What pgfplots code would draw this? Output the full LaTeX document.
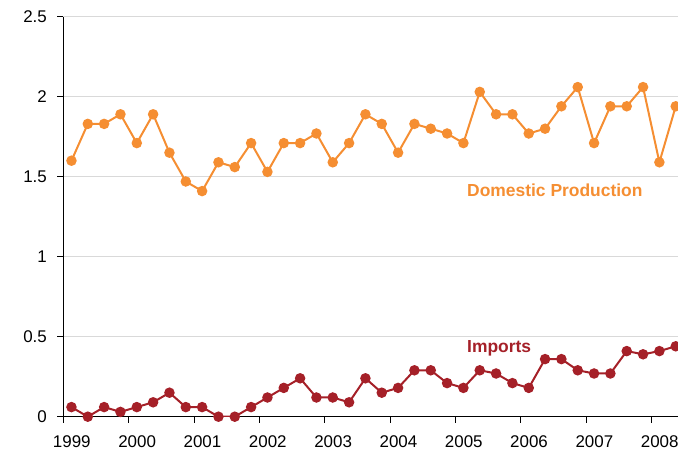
\documentclass[border=0pt]{standalone}
\usepackage{pgfplots}
\pgfplotsset{compat=1.18}
\usepackage{fontspec}
\setmainfont{Liberation Sans}
\definecolor{dom}{RGB}{245,142,50}
\definecolor{imp}{RGB}{165,32,40}
\definecolor{gridc}{RGB}{217,217,217}
\begin{document}
\begin{tikzpicture}[x=1bp,y=1bp]
\useasboundingbox (0,0) rectangle (678,453);
\begin{axis}[
  at={(63.3bp,36.3bp)}, anchor=south west,
  scale only axis, width=614.7bp, height=400bp,
  xmin=1999, xmax=2008.41, ymin=0, ymax=2.5,
  axis x line=bottom, axis y line=left,
  axis line style={-, black, line width=0.9bp},
  xtick={1999,2000,2001,2002,2003,2004,2005,2006,2007,2008},
  xticklabels={1999,2000,2001,2002,2003,2004,2005,2006,2007,2008},
  ytick={0,0.5,1,1.5,2,2.5},
  yticklabels={0,0.5,1,1.5,2,2.5},
  tick align=outside, major tick length=6bp,
  tick style={black, line width=0.8bp},
  ymajorgrids, grid style={gridc, line width=1.3bp},
  tick label style={font=\fontsize{17}{20}\selectfont, black},
  xticklabel style={xshift=8.5bp, yshift=-9bp},
  yticklabel style={xshift=-7bp},
  /pgf/number format/assume math mode=true,
]
\addplot[dom, line width=2bp, mark=*, mark size=4.2bp, mark options={fill=dom, draw=dom}] coordinates {
(1999.125,1.60) (1999.375,1.83) (1999.625,1.83) (1999.875,1.89)
(2000.125,1.71) (2000.375,1.89) (2000.625,1.65) (2000.875,1.47)
(2001.125,1.41) (2001.375,1.59) (2001.625,1.56) (2001.875,1.71)
(2002.125,1.53) (2002.375,1.71) (2002.625,1.71) (2002.875,1.77)
(2003.125,1.59) (2003.375,1.71) (2003.625,1.89) (2003.875,1.83)
(2004.125,1.65) (2004.375,1.83) (2004.625,1.80) (2004.875,1.77)
(2005.125,1.71) (2005.375,2.03) (2005.625,1.89) (2005.875,1.89)
(2006.125,1.77) (2006.375,1.80) (2006.625,1.94) (2006.875,2.06)
(2007.125,1.71) (2007.375,1.94) (2007.625,1.94) (2007.875,2.06)
(2008.125,1.59) (2008.375,1.94)
};
\addplot[imp, line width=2bp, mark=*, mark size=4.2bp, mark options={fill=imp, draw=imp}] coordinates {
(1999.125,0.06) (1999.375,0.00) (1999.625,0.06) (1999.875,0.03)
(2000.125,0.06) (2000.375,0.09) (2000.625,0.15) (2000.875,0.06)
(2001.125,0.06) (2001.375,0.00) (2001.625,0.00) (2001.875,0.06)
(2002.125,0.12) (2002.375,0.18) (2002.625,0.24) (2002.875,0.12)
(2003.125,0.12) (2003.375,0.09) (2003.625,0.24) (2003.875,0.15)
(2004.125,0.18) (2004.375,0.29) (2004.625,0.29) (2004.875,0.21)
(2005.125,0.18) (2005.375,0.29) (2005.625,0.27) (2005.875,0.21)
(2006.125,0.18) (2006.375,0.36) (2006.625,0.36) (2006.875,0.29)
(2007.125,0.27) (2007.375,0.27) (2007.625,0.41) (2007.875,0.39)
(2008.125,0.41) (2008.375,0.44)
};
\node[anchor=west, inner sep=0pt, text=dom, font=\bfseries\fontsize{17.5}{20}\selectfont] at (axis cs:2005.18,1.417) {Domestic Production};
\node[anchor=west, inner sep=0pt, text=imp, font=\bfseries\fontsize{17.5}{20}\selectfont] at (axis cs:2005.18,0.43) {Imports};
\end{axis}
\end{tikzpicture}
\end{document}
